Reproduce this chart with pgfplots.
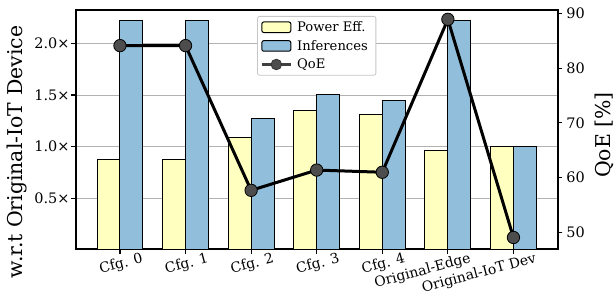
\documentclass[border=0pt]{standalone}
\usepackage{pgfplots}
\pgfplotsset{compat=1.18}
\usepackage{fontspec}
\setmainfont{DejaVu Serif}
\definecolor{pw}{HTML}{FFFFBF}
\definecolor{inf}{HTML}{91BFDB}
\definecolor{mk}{HTML}{4D4D4D}
\pgfplotsset{
  barleg/.style={legend image code/.code={\draw[##1] (0bp,-5.3bp) rectangle (29bp,5.3bp);}},
  lineleg/.style={legend image code/.code={\draw[mark repeat=2,mark phase=2,##1] plot coordinates {(0bp,0bp) (14.5bp,0bp) (29bp,0bp)};}},
}
\begin{document}
\begin{tikzpicture}
\begin{axis}[
  name=ax,
  scale only axis, width=482bp, height=239bp,
  xmin=-0.675, xmax=6.675,
  ymin=0.01, ymax=2.322,
  axis line style={line width=1.6bp},
  xtick={0,1,2,3,4,5,6},
  xticklabels={Cfg. 0,Cfg. 1,Cfg. 2,Cfg. 3,Cfg. 4,Original-Edge,Original-IoT Dev},
  xticklabel style={font=\fontsize{14}{16}\selectfont, xshift=21.5bp, yshift=3bp, rotate=15, anchor=north east, inner sep=1bp},
  ytick={0.5,1,1.5,2},
  yticklabels={0.5×,1.0×,1.5×,2.0×},
  yticklabel style={font=\fontsize{14.5}{16}\selectfont, inner sep=1.5bp},
  tick style={black, line width=1.1bp},
  major tick length=4.5bp,
  tick align=outside,
  xtick pos=bottom, ytick pos=left,
  ymajorgrids, grid style={color=black!30, line width=0.9bp},
  ylabel={w.r.t Original-IoT Device},
  ylabel style={font=\fontsize{20.5}{22}\selectfont, at={(axis description cs:-0.1218,0.406)}, anchor=center},
  legend style={at={(0.5,1)}, yshift=-6bp, anchor=north, draw=black!22, line width=0.8bp, rounded corners=2bp,
    font=\fontsize{13.2}{15}\selectfont, inner xsep=3bp, inner ysep=2.5bp, row sep=2bp,
    nodes={inner ysep=2.6bp, inner xsep=5bp}},
  legend cell align=left,
]
\addplot[ybar, bar width=0.35, bar shift=-0.175, fill=pw, draw=black, line width=1bp, barleg]
  coordinates {(0,0.88) (1,0.88) (2,1.09) (3,1.35) (4,1.31) (5,0.96) (6,1.0)};
\addlegendentry{Power Eff.}
\addplot[ybar, bar width=0.35, bar shift=0.175, fill=inf, draw=black, line width=1bp, barleg]
  coordinates {(0,2.216) (1,2.216) (2,1.27) (3,1.50) (4,1.45) (5,2.216) (6,1.0)};
\addlegendentry{Inferences}
\addlegendimage{black!75, line width=2.6bp, mark=*, mark size=5.3bp, mark options={fill=mk, draw=black!80, line width=0.8bp}, lineleg}
\addlegendentry{QoE}
\end{axis}
\begin{axis}[
  scale only axis, width=482bp, height=239bp,
  xmin=-0.675, xmax=6.675,
  ymin=47.0, ymax=90.6,
  axis x line=none,
  axis y line*=right,
  axis line style={line width=1.6bp},
  ytick={50,60,70,80,90},
  yticklabel style={font=\fontsize{14.5}{16}\selectfont, /pgf/number format/assume math mode=true, inner sep=1bp, xshift=3bp},
  tick style={black, line width=1.1bp},
  major tick length=4.5bp,
  tick align=outside,
  ylabel={QoE [\%]},
  ylabel style={font=\fontsize{20.5}{22}\selectfont, at={(axis description cs:1.096,0.477)}, anchor=center},
]
\addplot[black, line width=3bp, mark=*, mark size=6.2bp, mark options={fill=mk, draw=black, line width=0.8bp}]
  coordinates {(0,84.1) (1,84.1) (2,57.7) (3,61.4) (4,61.0) (5,88.9) (6,49.1)};
\end{axis}
\pgfresetboundingbox
\path ([xshift=-75.7bp, yshift=-45bp]ax.south west) rectangle ([xshift=56.3bp, yshift=10bp]ax.north east);
\end{tikzpicture}
\end{document}
